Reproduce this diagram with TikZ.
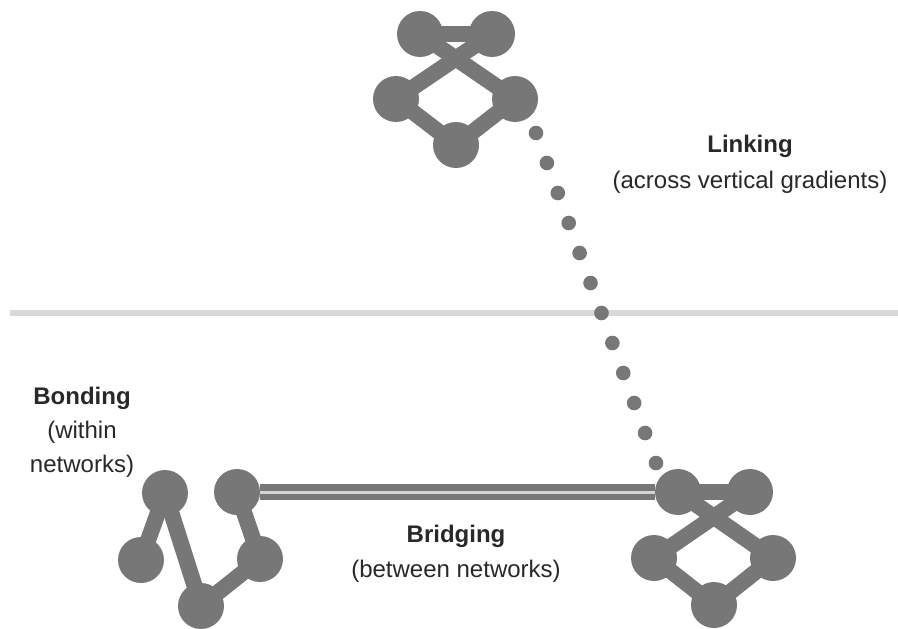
\documentclass[tikz,border=0pt]{standalone}
\usepackage{fontspec}
\setmainfont{Liberation Sans}
\usetikzlibrary{calc}
\definecolor{netgray}{RGB}{119,119,119}
\definecolor{rulegray}{RGB}{217,217,217}
\definecolor{stripegray}{RGB}{212,212,212}
\definecolor{txtgray}{RGB}{40,40,40}
\begin{document}
\begin{tikzpicture}[x=1pt,y=-1pt,
  vert/.style={circle,fill=netgray,minimum size=46pt,inner sep=0pt},
  tie/.style={draw=netgray,line width=16pt},
  bridgeline/.style={draw=netgray,line width=6.8pt,double=stripegray,double distance=3pt},
  lab/.style={font=\fontsize{24}{28}\selectfont,text=txtgray,anchor=base,inner sep=0pt},
  labb/.style={font=\fontsize{24}{28}\selectfont\bfseries,text=txtgray,anchor=base,inner sep=0pt}]
\useasboundingbox (0,0) rectangle (898,629);
% horizontal rule
\draw[rulegray,line width=6pt] (10,313) -- (898,313);
% top network
\begin{scope}[shift={(420,34)}]
  \node[vert] (t1) at (0,0) {};
  \node[vert] (t2) at (72,0) {};
  \node[vert] (t3) at (-24,65) {};
  \node[vert] (t4) at (95,65) {};
  \node[vert] (t5) at (36,111) {};
\end{scope}
\draw[tie] (t1.center) -- (t2.center);
\draw[tie] (t1.center) -- (t4.center);
\draw[tie] (t2.center) -- (t3.center);
\draw[tie] (t3.center) -- (t5.center);
\draw[tie] (t4.center) -- (t5.center);
% bottom right network
\begin{scope}[shift={(678,492)}]
  \node[vert] (r1) at (0,0) {};
  \node[vert] (r2) at (72,0) {};
  \node[vert] (r3) at (-24,66) {};
  \node[vert] (r4) at (95,66) {};
  \node[vert] (r5) at (36,113) {};
\end{scope}
\draw[tie] (r1.center) -- (r2.center);
\draw[tie] (r1.center) -- (r4.center);
\draw[tie] (r2.center) -- (r3.center);
\draw[tie] (r3.center) -- (r5.center);
\draw[tie] (r4.center) -- (r5.center);
% bottom left network
\node[vert] (l1) at (165,493) {};
\node[vert] (l2) at (237,492) {};
\node[vert] (l3) at (141,560) {};
\node[vert] (l4) at (260,559) {};
\node[vert] (l5) at (201,606) {};
\draw[tie] (l1.center) -- (l3.center);
\draw[tie] (l1.center) -- (l5.center);
\draw[tie] (l5.center) -- (l4.center);
\draw[tie] (l4.center) -- (l2.center);
% bridging
\draw[bridgeline] (l2) -- (r1);
% linking dots
\coordinate (d1) at (536,133);
\coordinate (d2) at (656,463);
\foreach \i in {0,...,11} {
  \fill[netgray] ($(d1)!\i/11!(d2)$) circle[radius=7.3pt];
}
% labels
\node[labb] (linkA) at (750,152) {Linking};
\node[lab] (linkB) at (750,188) {(across vertical gradients)};
\node[labb] (bondA) at (82,404) {Bonding};
\node[lab] (bondB) at (82,438) {(within};
\node[lab] (bondC) at (82,472) {networks)};
\node[labb] (bridA) at (456,542) {Bridging};
\node[lab] (bridB) at (456,577) {(between networks)};
\end{tikzpicture}
\end{document}
